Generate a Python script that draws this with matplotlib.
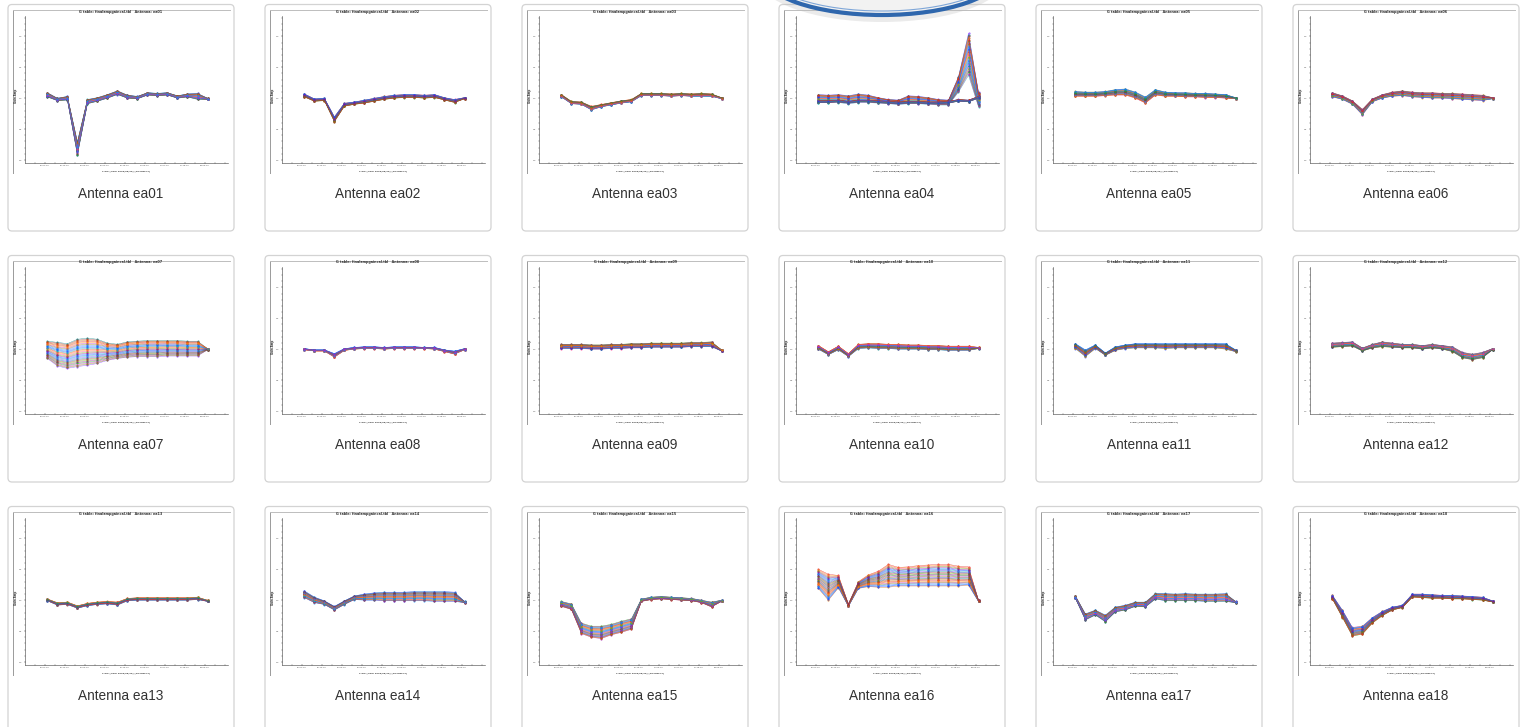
import matplotlib
matplotlib.use("Agg")
import matplotlib.pyplot as plt
from matplotlib.patches import FancyBboxPatch, Ellipse
import numpy as np

# sample times (hh:mm:ss) shared by every antenna
times = ["05:23:30", "05:34:00", "05:44:30", "05:55:00", "06:05:30", "06:16:00",
         "06:26:30", "06:37:00", "06:47:30", "06:58:00", "07:08:30", "07:19:00",
         "07:29:30", "07:40:00", "07:50:30", "08:01:00", "08:11:30"]
xtick_labels = ["05:21:00", "05:42:00", "06:03:00", "06:24:00", "06:45:00",
                "07:06:00", "07:27:00", "07:48:00", "08:09:00"]
ytick_values = [0.0, 0.5, 1.0, 1.5, 2.0]

antennas = ["ea01", "ea02", "ea03", "ea04", "ea05", "ea06",
            "ea07", "ea08", "ea09", "ea10", "ea11", "ea12",
            "ea13", "ea14", "ea15", "ea16", "ea17", "ea18"]

# lower / upper envelope of the gain curves
ea01_lo = [1.02, 0.96, 0.97, 0.08, 0.91, 0.95, 1.00, 1.06, 1.00, 0.99, 1.05, 1.04, 1.05, 1.00, 1.02, 0.98, 0.98]
ea01_hi = [1.09, 1.00, 1.03, 0.30, 0.98, 1.01, 1.06, 1.12, 1.05, 1.03, 1.09, 1.08, 1.09, 1.04, 1.07, 1.08, 1.00]
ea02_lo = [1.02, 0.95, 0.96, 0.62, 0.87, 0.90, 0.92, 0.95, 0.98, 1.00, 1.01, 1.01, 1.00, 1.01, 0.97, 0.93, 0.99]
ea02_hi = [1.07, 0.99, 1.00, 0.70, 0.92, 0.94, 0.97, 1.00, 1.03, 1.05, 1.06, 1.06, 1.05, 1.06, 1.01, 0.98, 1.01]
ea03_lo = [1.02, 0.91, 0.90, 0.81, 0.86, 0.89, 0.92, 0.94, 1.04, 1.04, 1.04, 1.03, 1.04, 1.03, 1.03, 1.03, 0.99]
ea03_hi = [1.06, 0.95, 0.94, 0.87, 0.90, 0.93, 0.96, 0.98, 1.08, 1.08, 1.08, 1.07, 1.08, 1.07, 1.08, 1.07, 1.01]
ea04_lo = [0.93, 0.93, 0.93, 0.91, 0.93, 0.93, 0.92, 0.91, 0.90, 0.91, 0.91, 0.90, 0.89, 0.89, 1.10, 1.37, 0.86]
ea04_hi = [1.06, 1.05, 1.06, 1.04, 1.07, 1.05, 1.01, 0.98, 0.97, 1.04, 1.03, 1.01, 0.98, 0.97, 1.35, 2.05, 1.10]
ea04b_lo = [0.93, 0.93, 0.94, 0.92, 0.94, 0.94, 0.93, 0.92, 0.91, 0.92, 0.92, 0.91, 0.91, 0.92, 0.95, 0.94, 1.00]
ea04b_hi = [0.96, 0.96, 0.97, 0.95, 0.97, 0.97, 0.96, 0.95, 0.94, 0.95, 0.95, 0.94, 0.94, 0.95, 0.98, 0.97, 1.03]
ea05_lo = [1.03, 1.03, 1.03, 1.04, 1.05, 1.05, 1.00, 0.92, 1.05, 1.03, 1.03, 1.02, 1.02, 1.01, 1.01, 1.00, 0.99]
ea05_hi = [1.11, 1.10, 1.10, 1.11, 1.14, 1.15, 1.10, 1.02, 1.14, 1.10, 1.09, 1.09, 1.08, 1.08, 1.07, 1.06, 1.01]
ea06_lo = [1.02, 0.98, 0.90, 0.73, 0.94, 1.00, 1.03, 1.04, 1.02, 1.01, 1.00, 1.00, 0.99, 0.98, 0.97, 0.96, 0.99]
ea06_hi = [1.09, 1.04, 0.96, 0.82, 0.99, 1.06, 1.10, 1.12, 1.10, 1.09, 1.09, 1.08, 1.08, 1.07, 1.06, 1.05, 1.01]
ea07_lo = [0.85, 0.73, 0.69, 0.72, 0.74, 0.77, 0.82, 0.85, 0.87, 0.88, 0.88, 0.88, 0.89, 0.89, 0.89, 0.89, 0.99]
ea07_hi = [1.13, 1.11, 1.09, 1.16, 1.18, 1.16, 1.10, 1.08, 1.12, 1.13, 1.14, 1.14, 1.14, 1.14, 1.13, 1.13, 1.01]
ea08_lo = [0.99, 0.97, 0.97, 0.87, 0.98, 1.00, 1.01, 1.01, 1.00, 1.01, 1.01, 1.01, 1.01, 1.00, 0.96, 0.92, 0.99]
ea08_hi = [1.01, 0.99, 0.99, 0.93, 1.01, 1.03, 1.04, 1.04, 1.03, 1.04, 1.04, 1.04, 1.03, 1.03, 0.99, 0.97, 1.01]
ea09_lo = [1.01, 1.01, 1.01, 1.00, 1.00, 1.01, 1.01, 1.02, 1.02, 1.03, 1.03, 1.03, 1.03, 1.04, 1.04, 1.04, 0.97]
ea09_hi = [1.08, 1.08, 1.08, 1.07, 1.07, 1.08, 1.08, 1.09, 1.09, 1.10, 1.10, 1.10, 1.10, 1.11, 1.11, 1.12, 0.99]
ea10_lo = [1.00, 0.91, 0.99, 0.88, 1.01, 1.02, 1.01, 1.01, 1.00, 1.00, 1.00, 0.99, 0.99, 0.98, 0.98, 0.98, 1.01]
ea10_hi = [1.06, 0.96, 1.05, 0.93, 1.08, 1.09, 1.09, 1.08, 1.08, 1.07, 1.07, 1.06, 1.06, 1.05, 1.05, 1.05, 1.03]
ea11_lo = [1.01, 0.88, 1.01, 0.90, 0.98, 1.01, 1.02, 1.02, 1.02, 1.01, 1.02, 1.02, 1.02, 1.02, 1.02, 1.00, 0.96]
ea11_hi = [1.09, 0.99, 1.07, 0.94, 1.04, 1.07, 1.09, 1.09, 1.09, 1.09, 1.09, 1.09, 1.09, 1.09, 1.09, 1.09, 0.99]
ea12_lo = [1.03, 1.04, 1.05, 0.97, 1.02, 1.04, 1.03, 1.02, 1.02, 1.00, 1.02, 1.00, 0.96, 0.86, 0.83, 0.86, 0.99]
ea12_hi = [1.10, 1.11, 1.12, 1.02, 1.08, 1.12, 1.10, 1.08, 1.08, 1.06, 1.08, 1.06, 1.04, 0.95, 0.92, 0.95, 1.01]
ea13_lo = [0.99, 0.92, 0.93, 0.87, 0.91, 0.93, 0.94, 0.92, 0.99, 1.00, 1.00, 1.00, 1.00, 1.00, 1.00, 1.01, 0.98]
ea13_hi = [1.02, 0.96, 0.97, 0.91, 0.95, 0.97, 0.98, 0.97, 1.03, 1.04, 1.04, 1.04, 1.04, 1.04, 1.04, 1.05, 1.00]
ea14_lo = [1.04, 0.96, 0.93, 0.84, 0.93, 1.01, 1.00, 1.00, 0.99, 0.99, 0.99, 0.99, 0.99, 0.98, 0.98, 0.98, 0.96]
ea14_hi = [1.15, 1.05, 0.99, 0.90, 0.99, 1.07, 1.10, 1.12, 1.13, 1.13, 1.13, 1.14, 1.14, 1.14, 1.14, 1.13, 0.98]
ea15_lo = [0.90, 0.85, 0.46, 0.40, 0.38, 0.44, 0.48, 0.53, 0.98, 1.01, 1.02, 1.01, 1.00, 0.99, 0.96, 0.89, 0.98]
ea15_hi = [0.98, 0.94, 0.63, 0.58, 0.58, 0.61, 0.66, 0.70, 1.02, 1.05, 1.06, 1.05, 1.04, 1.03, 1.00, 0.97, 1.00]
ea16_lo = [1.19, 1.00, 1.20, 0.90, 1.19, 1.22, 1.21, 1.21, 1.23, 1.23, 1.23, 1.23, 1.23, 1.23, 1.23, 1.24, 0.98]
ea16_hi = [1.50, 1.42, 1.40, 0.94, 1.30, 1.41, 1.47, 1.58, 1.53, 1.54, 1.56, 1.57, 1.58, 1.58, 1.55, 1.54, 1.00]
ea17_lo = [1.03, 0.68, 0.76, 0.65, 0.81, 0.84, 0.90, 0.89, 1.02, 0.99, 0.99, 0.99, 0.99, 0.98, 0.98, 0.98, 0.96]
ea17_hi = [1.07, 0.78, 0.84, 0.76, 0.89, 0.92, 0.97, 0.97, 1.11, 1.11, 1.10, 1.11, 1.10, 1.10, 1.10, 1.11, 0.98]
ea18_lo = [1.02, 0.72, 0.42, 0.45, 0.63, 0.75, 0.84, 0.88, 1.05, 1.04, 1.03, 1.03, 1.02, 1.02, 1.01, 1.00, 0.97]
ea18_hi = [1.08, 0.84, 0.56, 0.58, 0.72, 0.82, 0.89, 0.92, 1.10, 1.10, 1.09, 1.08, 1.08, 1.07, 1.06, 1.05, 0.99]

bands = {
    "ea01": [(ea01_lo, ea01_hi)], "ea02": [(ea02_lo, ea02_hi)], "ea03": [(ea03_lo, ea03_hi)],
    "ea04": [(ea04_lo, ea04_hi), (ea04b_lo, ea04b_hi)],
    "ea05": [(ea05_lo, ea05_hi)], "ea06": [(ea06_lo, ea06_hi)], "ea07": [(ea07_lo, ea07_hi)],
    "ea08": [(ea08_lo, ea08_hi)], "ea09": [(ea09_lo, ea09_hi)], "ea10": [(ea10_lo, ea10_hi)],
    "ea11": [(ea11_lo, ea11_hi)], "ea12": [(ea12_lo, ea12_hi)], "ea13": [(ea13_lo, ea13_hi)],
    "ea14": [(ea14_lo, ea14_hi)], "ea15": [(ea15_lo, ea15_hi)], "ea16": [(ea16_lo, ea16_hi)],
    "ea17": [(ea17_lo, ea17_hi)], "ea18": [(ea18_lo, ea18_hi)],
}

colors = ["#1f3cff", "#1aa31a", "#e02020", "#10b0b0", "#c020c0", "#ff8c00", "#7a2cff",
          "#7f7f00", "#ff2a8a", "#008080", "#4b6bff", "#60c000", "#a52a2a", "#0090ff",
          "#990099", "#cc6600"]


def to_min(s):
    h, m, sec = s.split(":")
    return int(h) * 60 + int(m) + int(sec) / 60.0


tmin = np.array([to_min(s) for s in times])
xticks = np.array([to_min(s) for s in xtick_labels])

W, H = 1520, 727
fig = plt.figure(figsize=(W / 100, H / 100), dpi=100)
fig.patch.set_facecolor("white")

bg = fig.add_axes([0, 0, 1, 1])
bg.set_xlim(0, W)
bg.set_ylim(H, 0)
bg.axis("off")


def px_axes(left, top, width, height):
    return fig.add_axes([left / W, 1 - (top + height) / H, width / W, height / H])


for k, name in enumerate(antennas):
    col, row = k % 6, k // 6
    x0 = 8 + 257 * col
    y0 = 4.5 + 251 * row

    # card
    card = FancyBboxPatch((x0, y0), 226, 226.5, boxstyle="round,pad=0,rounding_size=4",
                          facecolor="white", edgecolor="#d3d3d3", linewidth=0.9)
    bg.add_patch(card)
    # frame of the embedded plot image
    bg.plot([x0 + 5, x0 + 5], [y0 + 5, y0 + 168], color="#9a9a9a", lw=0.7)
    bg.plot([x0 + 5, x0 + 222], [y0 + 5, y0 + 5], color="#bdbdbd", lw=0.7)
    bg.text(x0 + 113, y0 + 7, "G table: finalampgaincal.tbl   Antenna: " + name,
            ha="center", va="center", fontsize=2.4, fontweight="bold", color="#333333")
    bg.text(x0 + 8, y0 + 91, "Gain Amp", rotation=90, ha="center", va="center",
            fontsize=1.9, fontweight="bold", color="#333333")
    bg.text(x0 + 118, y0 + 167, "Time (from 2023/05/26) (hh:mm:ss)", ha="center",
            va="center", fontsize=1.7, fontweight="bold", color="#444444")
    bg.text(x0 + 113, y0 + 189.5, "Antenna " + name, ha="center", va="center",
            fontsize=9.8, family="Liberation Sans", color="#333333")

    ax = px_axes(x0 + 17, y0 + 11.5, 203, 146.5)
    ax.set_xlim(300, 513)
    ax.set_ylim(-0.04, 2.33)
    for band in bands[name]:
        lo = np.array(band[0])
        hi = np.array(band[1])
        n = 28
        for j in range(n):
            # scramble drawing order so no single colour sits on top of the band
            f = ((j * 11) % n) / (n - 1)
            ax.plot(tmin, lo + f * (hi - lo), color=colors[(j * 7 + k) % len(colors)],
                    lw=0.3, marker=".", ms=1.0, alpha=0.8)
    ax.set_xticks(xticks)
    ax.set_xticklabels(xtick_labels)
    ax.set_xticks(np.arange(310.5, 513, 10.5), minor=True)
    ax.set_yticks(ytick_values)
    ax.set_yticklabels(["%.1f" % v for v in ytick_values])
    ax.set_yticks(np.arange(0, 2.31, 0.1), minor=True)
    ax.tick_params(which="major", labelsize=1.5, length=1.8, width=0.35, direction="inout",
                   colors="#555555", pad=1.2)
    ax.tick_params(which="minor", length=0.9, width=0.3, direction="inout", colors="#777777")
    for s in ["top", "right"]:
        ax.spines[s].set_visible(False)
    for s in ["left", "bottom"]:
        ax.spines[s].set_color("#555555")
        ax.spines[s].set_linewidth(0.45)
    ax.patch.set_alpha(0)

# blue ring overlay at the top
ov = fig.add_axes([0, 0, 1, 1])
ov.set_xlim(0, W)
ov.set_ylim(H, 0)
ov.axis("off")
ov.patch.set_alpha(0)
ov.add_patch(Ellipse((882, -24), 250, 92, facecolor="#bdbdbd", edgecolor="none", alpha=0.3))
ov.add_patch(Ellipse((882, -27), 240, 84, facecolor="#f2f2f2", edgecolor="#2f67ad", lw=3.0))
ov.add_patch(Ellipse((882, -28), 232, 78, facecolor="none", edgecolor="#7ea6d8", lw=0.8))

fig.savefig("out.png", dpi=100, facecolor="white")
